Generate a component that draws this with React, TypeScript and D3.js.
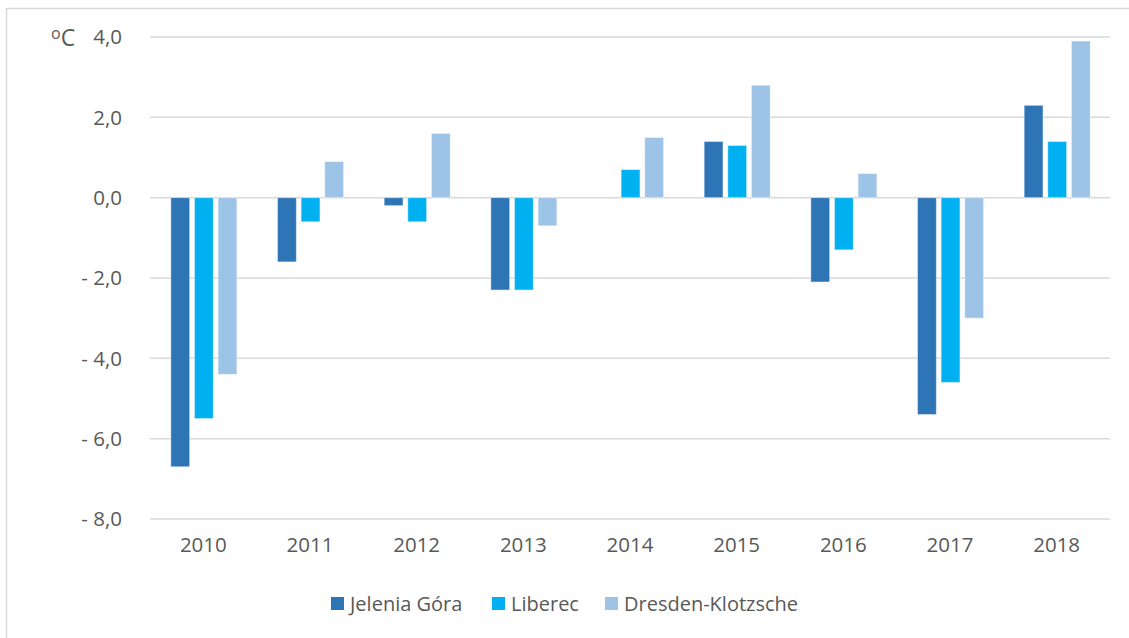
import * as d3 from "d3";

const years = ["2010", "2011", "2012", "2013", "2014", "2015", "2016", "2017", "2018"];
const seriesNames = ["Jelenia Góra", "Liberec", "Dresden-Klotzsche"];
const jeleniaGora = [-6.7, -1.6, -0.2, -2.3, 0.0, 1.4, -2.1, -5.4, 2.3];
const liberec = [-5.5, -0.6, -0.6, -2.3, 0.7, 1.3, -1.3, -4.6, 1.4];
const dresden = [-4.4, 0.9, 1.6, -0.7, 1.5, 2.8, 0.6, -3.0, 3.9];
const yTicks = [-8, -6, -4, -2, 0, 2, 4];

const seriesValues = [jeleniaGora, liberec, dresden];
const colors = ["#2E75B6", "#00B0F0", "#9DC3E6"];

const W = 1129;
const H = 638;
const FONT = "'Open Sans', 'Noto Sans', sans-serif";
const TEXT = "#595959";

const legendX = [331, 492, 605];

function fmt(v: number) {
  const s = Math.abs(v).toFixed(1).replace(".", ",");
  return v < 0 ? `- ${s}` : s;
}

export default function App() {
  const x0 = d3.scaleBand<string>().domain(years).range([150, 1110]);
  const bw = x0.bandwidth();
  const x1 = d3
    .scaleBand<string>()
    .domain(seriesNames)
    .range([bw * 0.195, bw * 0.815])
    .paddingInner(0.2);
  const y = d3.scaleLinear().domain([-8, 4]).range([519, 37]);

  return (
    <div style={{ position: "absolute", left: 0, top: 0 }}>
      <svg width={W} height={H} style={{ display: "block", background: "#fff" }}>
        <rect x={6.5} y={8.5} width={W + 10} height={H + 10} fill="none" stroke="#d9d9d9" strokeWidth={1.5} />

        {yTicks.map((t) => (
          <g key={t}>
            <line x1={150} x2={1110} y1={y(t)} y2={y(t)} stroke="#d9d9d9" strokeWidth={1.5} />
            <text
              x={122}
              y={y(t)}
              dy="0.36em"
              textAnchor="end"
              fontFamily={FONT}
              fontSize={20.5}
              fill={TEXT}
            >
              {fmt(t)}
            </text>
          </g>
        ))}

        {/* unit label, superscript "o" + "C" */}
        <text x={51} y={y(4) + 9} fontFamily={FONT} fontSize={23} fill={TEXT}>
          <tspan fontSize={16} dy={-7}>o</tspan>
          <tspan dy={7}>C</tspan>
        </text>

        {years.map((yr, i) => (
          <g key={yr} transform={`translate(${x0(yr)},0)`}>
            {seriesNames.map((s, j) => {
              const v = seriesValues[j][i];
              if (v === 0) return null;
              return (
                <rect
                  key={s}
                  x={x1(s)}
                  y={Math.min(y(v), y(0))}
                  width={x1.bandwidth()}
                  height={Math.abs(y(v) - y(0))}
                  fill={colors[j]}
                  stroke="#ffffff"
                  strokeOpacity={0.5}
                  strokeWidth={1}
                />
              );
            })}
            <text
              x={bw / 2}
              y={552}
              textAnchor="middle"
              fontFamily={FONT}
              fontSize={20.5}
              fill={TEXT}
            >
              {yr}
            </text>
          </g>
        ))}

        {seriesNames.map((s, j) => (
          <g key={s} transform={`translate(${legendX[j]},0)`}>
            <rect x={0} y={597} width={13} height={13} fill={colors[j]} />
            <text x={19} y={611} fontFamily={FONT} fontSize={20} fill={TEXT}>
              {s}
            </text>
          </g>
        ))}
      </svg>
    </div>
  );
}
